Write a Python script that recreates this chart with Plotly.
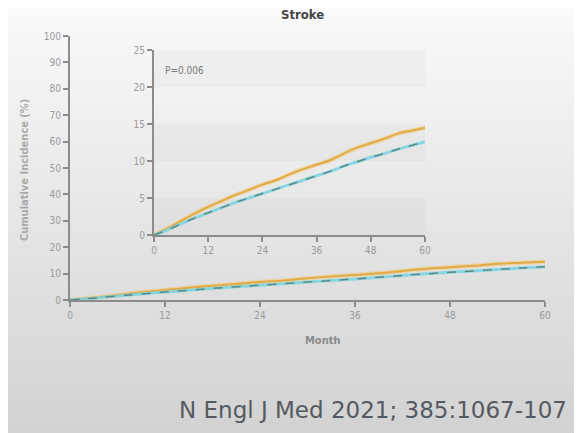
import plotly.graph_objects as go

# ---- data ----
months = [0, 3, 6, 9, 12, 15, 18, 21, 24, 27, 30, 33, 36, 39, 42, 45, 48, 51, 54, 57, 60]
regular_salt = [0, 0.9, 1.9, 2.9, 3.8, 4.6, 5.4, 6.1, 6.8, 7.4, 8.2, 8.9, 9.5, 10.1, 11.0, 11.8, 12.4, 13.0, 13.7, 14.1, 14.5]
salt_substitute = [0, 0.7, 1.5, 2.3, 3.0, 3.7, 4.4, 5.0, 5.6, 6.2, 6.8, 7.4, 8.0, 8.6, 9.3, 9.9, 10.5, 11.0, 11.6, 12.1, 12.6]
x_ticks = [0, 12, 24, 36, 48, 60]
main_y_ticks = [0, 10, 20, 30, 40, 50, 60, 70, 80, 90, 100]
inset_y_ticks = [0, 5, 10, 15, 20, 25]
inset_bands = [(0, 5), (10, 15), (20, 25)]

W, H = 582, 433
OFF = 8  # page body margin


def px(x):
    return (x - OFF) / W


def py(y):
    return 1 - (y - OFF) / H


ORANGE = "#e2aa45"
ORANGE_GLOW = "rgba(240,200,120,0.55)"
CYAN = "rgba(120,212,226,0.85)"
DASH = "#5d8a86"
AXIS = "#8c8c8c"
FAM = "Liberation Sans Narrow, DejaVu Sans Condensed, sans-serif"
TICKFONT = dict(family=FAM, size=10, color="#9a9a9a")

fig = go.Figure()

for xa, ya in (("x", "y"), ("x2", "y2")):
    fig.add_trace(go.Scatter(x=months, y=regular_salt, xaxis=xa, yaxis=ya, mode="lines",
                             line=dict(color=ORANGE_GLOW, width=4.5, shape="spline"), hoverinfo="skip", showlegend=False))
    fig.add_trace(go.Scatter(x=months, y=regular_salt, xaxis=xa, yaxis=ya, mode="lines",
                             line=dict(color=ORANGE, width=2, shape="spline"), name="Regular salt", showlegend=False))
    fig.add_trace(go.Scatter(x=months, y=salt_substitute, xaxis=xa, yaxis=ya, mode="lines",
                             line=dict(color=CYAN, width=3, shape="spline"), hoverinfo="skip", showlegend=False))
    fig.add_trace(go.Scatter(x=months, y=salt_substitute, xaxis=xa, yaxis=ya, mode="lines",
                             line=dict(color=DASH, width=1.5, dash="dash", shape="spline"), name="Salt substitute", showlegend=False))

shapes = []
# background gradient (photo of a screen)
n = 40
for i in range(n):
    t = i / (n - 1)
    v = int(250 - 40 * t)
    shapes.append(dict(type="rect", xref="paper", yref="paper", x0=-0.05, x1=1.05,
                       y0=1 - (i + 1) / n - 0.002, y1=1 - i / n + 0.002, line=dict(width=0),
                       fillcolor=f"rgb({v},{v},{v})", layer="below"))
for b0, b1 in inset_bands:
    shapes.append(dict(type="rect", xref="x2", yref="y2", x0=0, x1=60, y0=b0, y1=b1,
                       line=dict(width=0), fillcolor="rgba(0,0,0,0.022)", layer="below"))

axis_common = dict(showgrid=False, zeroline=False, showline=True, linecolor=AXIS, linewidth=2,
                   ticks="outside", ticklen=5, tickwidth=1.5, tickcolor=AXIS, tickfont=TICKFONT,
                   automargin=False)

fig.update_layout(
    template="none",
    width=W, height=H,
    margin=dict(l=0, r=0, t=0, b=0, pad=0, autoexpand=False),
    paper_bgcolor="#e4e4e4",
    plot_bgcolor="rgba(0,0,0,0)",
    shapes=shapes,
    showlegend=False,
    xaxis=dict(domain=[px(70), px(545)], range=[0, 60], tickvals=x_ticks, anchor="y", **axis_common),
    yaxis=dict(domain=[py(300), py(36)], range=[0, 100], tickvals=main_y_ticks, anchor="x", **axis_common),
    xaxis2=dict(domain=[px(154), px(425)], range=[0, 60], tickvals=x_ticks, anchor="y2", **axis_common),
    yaxis2=dict(domain=[py(235), py(50)], range=[0, 25], tickvals=inset_y_ticks, anchor="x2", **axis_common),
    annotations=[
        dict(text="<b>Stroke</b>", xref="paper", yref="paper", x=px(302), y=py(15),
             xanchor="center", yanchor="middle",
             showarrow=False, font=dict(family=FAM, size=13, color="#444")),
        dict(text="<b>Cumulative Incidence (%)</b>", xref="paper", yref="paper", x=px(24), y=py(170),
             xanchor="center", yanchor="middle",
             textangle=-90, showarrow=False, font=dict(family=FAM, size=11, color="#a8a8a8")),
        dict(text="<b>Month</b>", xref="paper", yref="paper", x=px(322), y=py(340),
             xanchor="center", yanchor="middle",
             showarrow=False, font=dict(family=FAM, size=11, color="#8a8a8a")),
        dict(text="P=0.006", xref="x2", yref="y2", x=2, y=22.2, xanchor="left", yanchor="middle", showarrow=False,
             font=dict(family=FAM, size=10, color="#7a7a7a")),
        dict(text="<b>Regular salt</b>", xref="x2", yref="y2", x=61.3, y=14.8, xanchor="left", yanchor="middle",
             showarrow=False, font=dict(family=FAM, size=10, color="#e8a92c")),
        dict(text="<b>Salt substitute</b>", xref="x2", yref="y2", x=61.3, y=12.5, xanchor="left", yanchor="middle",
             showarrow=False, font=dict(family=FAM, size=10, color="#35b9d3")),
        dict(text="N Engl J Med 2021; 385:1067-107", xref="paper", yref="paper", x=px(177), y=py(410),
             xanchor="left", yanchor="middle", showarrow=False,
             font=dict(family="DejaVu Sans", size=23, color="#555a60")),
    ],
)

fig.write_html("out.html")
